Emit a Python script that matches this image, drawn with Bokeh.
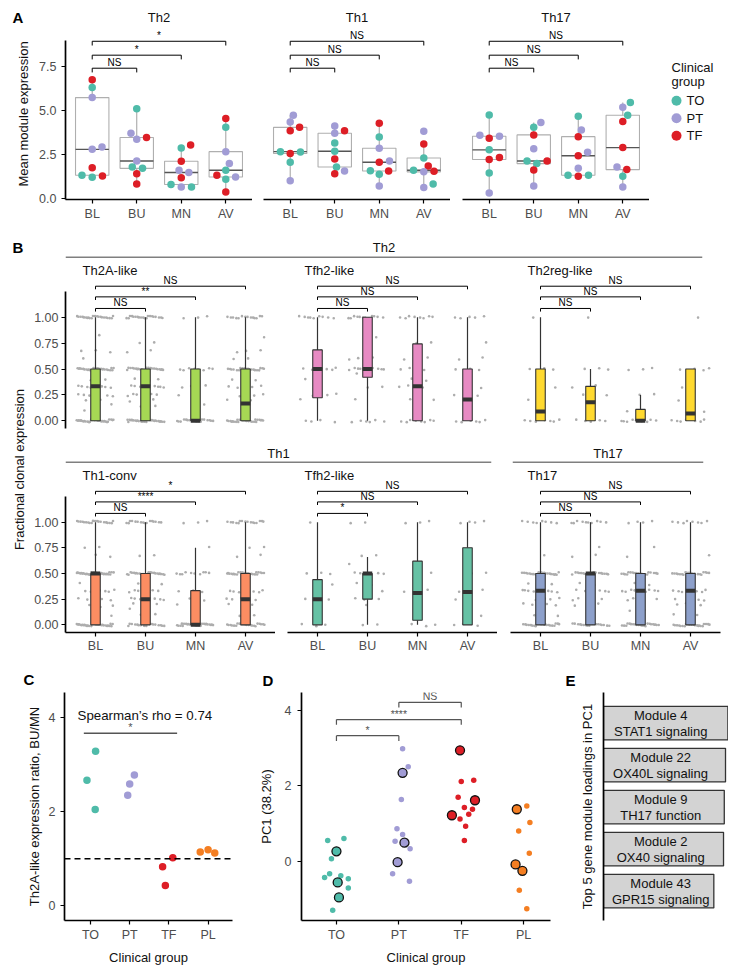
import numpy as np
from bokeh.plotting import figure
from bokeh.models import (Range1d, FixedTicker, Label, LabelSet, ColumnDataSource,
                          Span, NumeralTickFormatter)
from bokeh.layouts import row, column
from bokeh.embed import file_html
from bokeh.resources import INLINE
from bokeh.core.properties import value

FONT = "Liberation Sans"
TICK_COL = "#4D4D4D"
TXT_COL = "#111111"
GROUP_COLORS = {"TO": "#4FBBA9", "PT": "#A19CD5", "TF": "#DD1E26", "PL": "#F47E22"}

# ============================ DATA ============================
times = ["BL", "BU", "MN", "AV"]
legend_groups = ["TO", "PT", "TF"]
clinical_groups = ["TO", "PT", "TF", "PL"]
compare_pairs = [("BL", "BU"), ("BL", "MN"), ("BL", "AV")]

# ---- Panel A: mean module expression (9 patients per time point)
a_modules = ["Th2", "Th1", "Th17"]
a_time = ["BL"] * 9 + ["BU"] * 9 + ["MN"] * 9 + ["AV"] * 9
a_th2_group = ["TF", "TO", "PT", "PT", "PT", "TF", "TO", "TF", "TO",
               "TO", "PT", "TF", "PT", "PT", "TO", "TO", "TF", "TF",
               "TF", "TO", "TF", "PT", "PT", "TF", "TO", "PT", "TO",
               "TF", "TO", "PT", "PT", "TO", "TF", "PT", "TO", "TF"]
a_th2_value = [6.74, 6.29, 5.72, 2.92, 2.78, 1.74, 1.31, 1.27, 1.19,
               5.09, 3.69, 3.45, 3.35, 2.12, 1.78, 1.70, 1.40, 0.81,
               3.03, 2.86, 2.10, 1.59, 1.46, 1.17, 0.78, 0.64, 0.64,
               4.53, 4.03, 2.65, 1.97, 1.59, 1.31, 1.21, 1.08, 0.36]
a_th1_group = ["PT", "PT", "TF", "TF", "TO", "TO", "TF", "TO", "PT",
               "PT", "TF", "PT", "TO", "TO", "TF", "TO", "PT", "TF",
               "TF", "TO", "PT", "PT", "TF", "TO", "TF", "TO", "PT",
               "PT", "TF", "TO", "TF", "TO", "TF", "PT", "TO", "PT"]
a_th1_value = [4.72, 4.34, 4.03, 3.84, 2.65, 2.63, 2.54, 2.05, 1.00,
               4.11, 3.83, 3.69, 3.14, 2.67, 2.23, 1.78, 1.55, 1.40,
               4.26, 3.48, 2.84, 2.12, 2.05, 1.57, 1.55, 1.36, 0.70,
               3.81, 3.09, 2.29, 1.84, 1.59, 1.53, 1.50, 0.81, 0.61]
a_th17_group = ["TO", "PT", "PT", "TF", "TO", "TF", "TF", "TO", "PT",
                "PT", "TO", "TF", "PT", "TF", "TO", "TO", "TF", "PT",
                "TO", "PT", "TF", "PT", "TF", "PT", "TO", "TF", "TO",
                "TO", "PT", "TO", "TF", "TF", "PT", "TF", "TO", "PT"]
a_th17_value = [4.73, 3.58, 3.52, 3.41, 2.75, 2.31, 2.20, 1.44, 0.30,
                4.30, 4.03, 3.60, 2.82, 2.12, 2.12, 1.97, 1.61, 0.70,
                4.66, 3.88, 3.50, 2.61, 2.42, 1.70, 1.31, 1.25, 1.31,
                5.44, 5.17, 4.72, 4.36, 2.88, 1.78, 1.63, 1.25, 0.64]
a_th2_sig = ["NS", "*", "*"]
a_th1_sig = ["NS", "NS", "NS"]
a_th17_sig = ["NS", "NS", "NS"]

# horizontal dodge of the dots (layout only)
a_th2_dodge = [0, 0, 0, 0.22, 0, 0, -0.23, 0.23, 0,
               0, -0.13, 0.22, 0, 0, -0.1, 0.13, 0, 0,
               0.21, 0, 0, -0.05, 0.17, 0, -0.23, 0, 0.23,
               0, 0, 0, 0.08, 0, -0.2, 0.22, 0, 0]
a_th1_dodge = [0.07, 0, 0.21, 0, -0.22, 0.23, 0, 0, 0,
               0, 0.22, 0, 0, 0, 0, 0.04, 0.22, 0,
               0, 0, 0, 0.23, 0, -0.2, 0.21, 0, 0,
               0, 0, 0, 0.1, -0.23, 0.23, 0, 0.21, 0]
a_th17_dodge = [0, -0.21, 0.23, 0, 0, 0.23, 0, 0, 0,
                0.16, 0, 0, 0, 0.3, -0.15, 0.07, 0, 0,
                0, 0.07, 0, 0.21, 0, 0, -0.23, 0, 0.23,
                0.17, 0, 0.11, 0, 0, -0.13, 0.09, 0, 0]

# ---- Panel B: fractional clonal expression, box stats (lo, q1, median, q3, hi) per time point
b_th2a_box = [(0, 0, 0.333, 0.5, 1.0), (0, 0, 0.333, 0.5, 1.0), (0, 0, 0, 0.5, 1.0), (0, 0, 0.167, 0.5, 1.0)]
b_tfh2a_box = [(0, 0.222, 0.5, 0.685, 1.0), (0, 0.42, 0.5, 1.0, 1.0), (0, 0, 0.333, 0.743, 1.0), (0, 0, 0.206, 0.5, 1.0)]
b_th2reg_box = [(0, 0, 0.09, 0.5, 1.0), (0, 0, 0.18, 0.333, 0.5), (0, 0, 0, 0.11, 0.25), (0, 0, 0.07, 0.5, 0.5)]
b_th1conv_box = [(0, 0, 0.5, 0.5, 1.0), (0, 0, 0.25, 0.5, 1.0), (0, 0, 0, 0.333, 0.75), (0, 0, 0.25, 0.5, 1.0)]
b_tfh2b_box = [(0, 0, 0.25, 0.44, 1.0), (0, 0.25, 0.5, 0.5, 0.66), (0, 0.045, 0.31, 0.62, 1.0), (0, 0, 0.32, 0.75, 1.0)]
b_th17_box = [(0, 0, 0.333, 0.5, 1.0), (0, 0, 0.5, 0.5, 1.0), (0, 0, 0.333, 0.5, 1.0), (0, 0, 0.333, 0.5, 1.0)]

# individual clone values as (value, number of clones)
b_th2a_pts = {
    "BL": [(1, 22), (0.82, 1), (0.67, 3), (0.6, 1), (0.5, 26), (0.4, 2), (0.33, 8), (0.25, 7), (0.2, 2), (0.17, 2), (0.1, 1), (0, 32)],
    "BU": [(1, 20), (0.75, 2), (0.67, 2), (0.5, 24), (0.4, 3), (0.33, 9), (0.25, 6), (0.2, 3), (0.14, 2), (0, 28)],
    "MN": [(1, 3), (0.5, 8), (0.33, 3), (0.25, 2), (0.17, 1), (0, 18)],
    "AV": [(1, 14), (0.8, 1), (0.67, 3), (0.6, 2), (0.5, 20), (0.4, 2), (0.33, 6), (0.25, 4), (0.2, 2), (0, 26)]}
b_tfh2a_pts = {
    "BL": [(1, 9), (0.67, 1), (0.5, 7), (0.4, 1), (0.33, 1), (0.25, 3), (0.2, 1), (0, 4)],
    "BU": [(1, 12), (0.8, 1), (0.6, 3), (0.5, 10), (0.45, 2), (0.33, 2), (0.2, 1), (0, 6)],
    "MN": [(1, 8), (0.75, 2), (0.6, 2), (0.5, 4), (0.4, 2), (0.33, 3), (0.2, 2), (0, 8)],
    "AV": [(1, 5), (0.75, 1), (0.6, 2), (0.5, 3), (0.33, 2), (0.25, 2), (0.2, 1), (0, 6)]}
b_th2reg_pts = {
    "BL": [(1, 1), (0.5, 4), (0.33, 2), (0.2, 1), (0.1, 1), (0, 8)],
    "BU": [(1, 1), (0.5, 3), (0.33, 2), (0.25, 3), (0.2, 1), (0, 5)],
    "MN": [(0.5, 3), (0.25, 2), (0.1, 1), (0, 10)],
    "AV": [(1, 1), (0.5, 4), (0.33, 1), (0.2, 2), (0.1, 1), (0, 7)]}
b_th1conv_pts = {
    "BL": [(1, 20), (0.75, 2), (0.67, 2), (0.5, 32), (0.4, 2), (0.33, 7), (0.25, 4), (0.2, 2), (0.17, 1), (0.1, 2), (0, 30)],
    "BU": [(1, 16), (0.67, 2), (0.5, 26), (0.4, 3), (0.33, 7), (0.25, 8), (0.2, 3), (0.17, 2), (0.1, 2), (0, 18)],
    "MN": [(1, 3), (0.75, 1), (0.5, 10), (0.33, 3), (0.25, 2), (0.2, 1), (0, 26)],
    "AV": [(1, 16), (0.75, 2), (0.67, 2), (0.5, 26), (0.33, 8), (0.25, 4), (0.2, 3), (0.1, 2), (0, 22)]}
b_tfh2b_pts = {
    "BL": [(1, 1), (0.5, 3), (0.4, 1), (0.25, 3), (0, 3)],
    "BU": [(1, 2), (0.67, 2), (0.6, 1), (0.5, 6), (0.4, 2), (0.33, 2), (0.25, 3), (0.2, 1), (0, 2)],
    "MN": [(1, 3), (0.5, 2), (0.33, 2), (0.25, 1), (0, 3)],
    "AV": [(1, 4), (0.5, 2), (0.33, 2), (0.25, 2), (0.1, 1), (0, 3)]}
b_th17_pts = {
    "BL": [(1, 8), (0.67, 1), (0.5, 22), (0.4, 3), (0.33, 10), (0.25, 4), (0.2, 4), (0.1, 3), (0, 22)],
    "BU": [(1, 10), (0.75, 1), (0.67, 2), (0.5, 18), (0.4, 2), (0.33, 6), (0.25, 4), (0.2, 3), (0, 18)],
    "MN": [(1, 4), (0.75, 1), (0.67, 1), (0.5, 20), (0.4, 2), (0.33, 10), (0.25, 4), (0.15, 2), (0, 22)],
    "AV": [(1, 8), (0.67, 1), (0.5, 20), (0.33, 8), (0.25, 4), (0.2, 3), (0.1, 3), (0, 22)]}
b_th2a_sig = ["NS", "**", "NS"]
b_tfh2a_sig = ["NS", "NS", "NS"]
b_th2reg_sig = ["NS", "NS", "NS"]
b_th1conv_sig = ["NS", "****", "*"]
b_tfh2b_sig = ["*", "NS", "NS"]
b_th17_sig = ["NS", "NS", "NS"]

# ---- Panel C: Th2A-like expression ratio BU/MN
c_group = ["TO", "TO", "TO", "PT", "PT", "PT", "TF", "TF", "TF", "PL", "PL", "PL"]
c_value = [3.29, 2.67, 2.05, 2.78, 2.59, 2.35, 1.02, 0.83, 0.43, 1.14, 1.19, 1.12]
c_dodge = [0.13, -0.09, 0.12, 0.12, 0.0, -0.05, 0.1, -0.16, -0.09, -0.2, 0.0, 0.17]
c_reference = 1.0
c_rho = 0.74

# ---- Panel D: PC1 (38.2%)
d_group = ["TO"] * 12 + ["PT"] * 12 + ["TF"] * 12 + ["PL"] * 9
d_value = [0.55, 0.60, 0.06, -0.44, -0.34, -0.39, -0.47, -0.72, -1.31, 0.26, -0.57, -0.97,
           2.99, 2.51, 1.64, 0.86, 0.71, 0.53, 0.33, -0.34, -0.54, 2.35, 0.49, -0.03,
           2.12, 2.15, 1.70, 1.43, 1.38, 1.25, 1.12, 0.93, 0.55, 2.95, 1.22, 1.62,
           1.47, 1.03, 0.80, 0.21, -0.78, -1.27, 1.38, -0.09, -0.26]
d_marked = ([False] * 9 + [True] * 3) * 3 + [False] * 6 + [True] * 3
d_dodge = [-0.14, 0.12, -0.08, -0.19, -0.11, 0.07, 0.19, 0.19, -0.06, 0.0, 0.02, 0.04,
           0.06, 0.15, 0.04, -0.03, 0.06, -0.06, 0.18, -0.1, 0.17, 0.06, 0.09, -0.02,
           0.0, 0.2, -0.05, 0.05, 0.18, 0.12, -0.02, 0.07, 0.05, -0.02, -0.15, 0.22,
           0.05, 0.1, -0.08, 0.09, -0.07, 0.05, -0.11, -0.13, -0.02]
d_pairs = [("TO", "PT"), ("TO", "TF"), ("PT", "TF")]
d_sig = ["*", "****", "NS"]

# ---- Panel E: top 5 gene module loadings in PC1 (relative)
e_module = ["Module 4", "Module 22", "Module 9", "Module 2", "Module 43"]
e_function = ["STAT1 signaling", "OX40L signaling", "TH17 function", "OX40 signaling", "GPR15 signaling"]
e_loading = [1.0, 0.981, 0.971, 0.965, 0.887]


# ============================ HELPERS ============================
def style_axis(ax):
    ax.axis_line_color = "black"
    ax.axis_line_width = 1.7
    ax.major_tick_line_color = "black"
    ax.major_tick_line_width = 1.2
    ax.major_tick_in = 0
    ax.major_tick_out = 4
    ax.minor_tick_line_color = None
    ax.major_label_text_font = FONT
    ax.major_label_text_font_size = "12.5px"
    ax.major_label_text_color = TICK_COL
    ax.axis_label_text_font = FONT
    ax.axis_label_text_font_size = "13px"
    ax.axis_label_text_font_style = "normal"
    ax.axis_label_text_color = TXT_COL


def make_fig(width, height, xr, yr, left=0, right=0, top=0, bottom=0, xaxis=None, yaxis=None):
    p = figure(width=width, height=height, x_range=xr, y_range=yr, title=None,
               output_backend="svg", toolbar_location=None,
               x_axis_location=xaxis, y_axis_location=yaxis,
               min_border_left=left, min_border_right=right,
               min_border_top=top, min_border_bottom=bottom)
    p.grid.visible = False
    p.outline_line_color = None
    for ax in p.axis:
        style_axis(ax)
    return p


def add_text(p, text, x, y, x_units="data", y_units="data", size="13px", align="left",
             baseline="middle", angle=0.0, bold=False, color=TXT_COL):
    p.add_layout(Label(x=x, y=y, x_units=x_units, y_units=y_units, text=text, angle=angle,
                       text_font=FONT, text_font_size=size,
                       text_font_style="bold" if bold else "normal",
                       text_align=align, text_baseline=baseline, text_color=color))


def strip_text(p, xs, ys, texts, size="13px", align="center", bold=False, color=TXT_COL):
    p.text(x=xs, y=ys, text=texts, text_font=value(FONT), text_font_size=size,
           text_font_style="bold" if bold else "normal", text_align=align,
           text_baseline="middle", text_color=color)


def brackets(p, x0s, x1s, ys, labels, tick, size, color="black", lw=1.0):
    downs = [y - tick for y in ys]
    p.segment(x0=x0s, y0=ys, x1=x1s, y1=ys, line_color=color, line_width=lw)
    p.segment(x0=x0s, y0=ys, x1=x0s, y1=downs, line_color=color, line_width=lw)
    p.segment(x0=x1s, y0=ys, x1=x1s, y1=downs, line_color=color, line_width=lw)
    src = ColumnDataSource(dict(x=[(a + b) / 2 for a, b in zip(x0s, x1s)], y=list(ys), t=labels))
    p.add_layout(LabelSet(x="x", y="y", text="t", source=src, text_align="center",
                          text_baseline="alphabetic", y_offset=2, text_font=value(FONT),
                          text_font_size=value(size), text_color=color))


def cat_axis(ax, labels, standoff):
    ax.ticker = FixedTicker(ticks=list(range(1, len(labels) + 1)))
    ax.major_label_overrides = {i + 1: lab for i, lab in enumerate(labels)}
    ax.major_label_standoff = standoff


# ============================ PANEL A ============================
A_STRIP_H = 20
A_H, A_BOT = 200, 29
A_FRAME_H = A_H - A_BOT
A_PX_PER_UNIT = 17.6
A_Y0 = -0.07
A_AXIS_TOP = 8.97
A_BRACKET_Y = [7.39, 8.13, 8.92]
A_BOX_W = 0.75
A_WIDTHS = [244, 198, 199]
A_LEFTS = [57, 11, 12]
A_FRAME_W = 187
LEG_W = 720 - sum(A_WIDTHS)


def a_panel(grp, val, dodge, sig, width, left, first):
    p = make_fig(width, A_H, Range1d(0.4, 4.6), Range1d(A_Y0, A_Y0 + A_FRAME_H / A_PX_PER_UNIT),
                 left=left, right=0, top=0, bottom=A_BOT, xaxis="below", yaxis="left" if first else None)
    cat_axis(p.xaxis[0], times, 3)
    if first:
        ya = p.yaxis[0]
        ya.ticker = FixedTicker(ticks=[0, 2.5, 5.0, 7.5])
        ya.formatter = NumeralTickFormatter(format="0.0")
        ya.bounds = (A_Y0, A_AXIS_TOP)
        ya.major_label_standoff = 5
        ya.axis_label = "Mean module expression"
        ya.axis_label_standoff = 5
    val = np.asarray(val, float)
    tpos = np.array([times.index(t) + 1 for t in a_time], float)
    st = {k: [] for k in ("x", "xl", "xr", "q1", "med", "q3", "lo", "hi")}
    for i in range(len(times)):
        v = val[tpos == i + 1]
        q1, med, q3 = np.percentile(v, [25, 50, 75])
        iqr = q3 - q1
        st["x"].append(i + 1)
        st["xl"].append(i + 1 - A_BOX_W / 2)
        st["xr"].append(i + 1 + A_BOX_W / 2)
        st["q1"].append(q1)
        st["med"].append(med)
        st["q3"].append(q3)
        st["lo"].append(v[v >= q1 - 1.5 * iqr].min())
        st["hi"].append(v[v <= q3 + 1.5 * iqr].max())
    src = ColumnDataSource(st)
    p.segment(x0="x", y0="q3", x1="x", y1="hi", source=src, line_color="#A8A8A8", line_width=1.1)
    p.segment(x0="x", y0="q1", x1="x", y1="lo", source=src, line_color="#A8A8A8", line_width=1.1)
    p.quad(left="xl", right="xr", bottom="q1", top="q3", source=src, fill_color=None,
           line_color="#AFAFAF", line_width=1.1)
    p.segment(x0="xl", y0="med", x1="xr", y1="med", source=src, line_color="#555555", line_width=1.4)
    px = tpos + np.asarray(dodge, float)
    p.scatter(x=list(px), y=list(val), size=7.5, fill_color=[GROUP_COLORS[g] for g in grp],
              line_color=None)
    x0s = [times.index(a) + 1 for a, b in compare_pairs]
    x1s = [times.index(b) + 1 for a, b in compare_pairs]
    brackets(p, x0s, x1s, A_BRACKET_Y, sig, 0.24, "10px", "black", 1.0)
    return p


a1 = a_panel(a_th2_group, a_th2_value, a_th2_dodge, a_th2_sig, A_WIDTHS[0], A_LEFTS[0], True)
a2 = a_panel(a_th1_group, a_th1_value, a_th1_dodge, a_th1_sig, A_WIDTHS[1], A_LEFTS[1], False)
a3 = a_panel(a_th17_group, a_th17_value, a_th17_dodge, a_th17_sig, A_WIDTHS[2], A_LEFTS[2], False)

# strip with panel letter and facet titles (pixel space)
strip_a = make_fig(720, A_STRIP_H, Range1d(0, 720), Range1d(A_STRIP_H, 0))
a_centers = [sum(A_WIDTHS[:i]) + A_LEFTS[i] + A_FRAME_W / 2 for i in range(3)]
strip_text(strip_a, a_centers, [9] * 3, a_modules, size="13px")
strip_text(strip_a, [4], [9], ["A"], size="15px", align="left", bold=True, color="black")

# legend (pixel space figure)
leg = make_fig(LEG_W, A_H, Range1d(0, LEG_W), Range1d(A_STRIP_H + A_H, A_STRIP_H))
LEG_TITLE_X, LEG_TITLE_Y, LEG_TITLE_DY = 22, 66, 15.5
LEG_KEY_X, LEG_TEXT_X, LEG_Y0, LEG_DY = 27, 37, 104.5, 20.5
leg.text(x=[LEG_TITLE_X] * 2, y=[LEG_TITLE_Y, LEG_TITLE_Y + LEG_TITLE_DY], text=["Clinical", "group"],
         text_font=value(FONT), text_font_size="13px", text_baseline="middle", text_align="left",
         text_color=TXT_COL)
leg_y = [LEG_Y0 + i * LEG_DY for i in range(len(legend_groups))]
leg.scatter(x=[LEG_KEY_X] * len(legend_groups), y=leg_y, size=10,
            fill_color=[GROUP_COLORS[g] for g in legend_groups], line_color=None)
leg.text(x=[LEG_TEXT_X] * len(legend_groups), y=leg_y, text=legend_groups, text_font=value(FONT),
         text_font_size="13px", text_baseline="middle", text_align="left", text_color=TXT_COL)

# ============================ PANEL B ============================
B_COLS = [(247, 37, 0), (222, 12, 0), (231, 13, 8)]
B_BRACKET_Y = [1.085, 1.197, 1.30]
B_BOX_W = 0.19


def b_panel(name, color, box, pts, sig, col, bottom_row):
    width, left, right = B_COLS[col]
    if bottom_row:
        height, bot, y0, y1, ytop = 192, 22, -0.0745, 1.571, 1.245
    else:
        height, bot, y0, y1, ytop = 178, 8, -0.0743, 1.5676, 1.248
    p = make_fig(width, height, Range1d(0.4, 4.6), Range1d(y0, y1), left=left, right=right, top=0,
                 bottom=bot, xaxis="below" if bottom_row else None, yaxis="left" if col == 0 else None)
    if col == 0:
        ya = p.yaxis[0]
        ya.ticker = FixedTicker(ticks=[0, 0.25, 0.5, 0.75, 1.0])
        ya.formatter = NumeralTickFormatter(format="0.00")
        ya.bounds = (y0, ytop)
        ya.major_label_standoff = 3
    if bottom_row:
        cat_axis(p.xaxis[0], times, 2)
    gx, gy = [], []
    for i, t in enumerate(times):
        for li, (v, n) in enumerate(pts[t]):
            for k in range(n):
                fx = ((k + 0.5) * 0.6180339887 + li * 0.29 + i * 0.13) % 1.0
                fy = ((k + 0.5) * 0.7548776662 + li * 0.41) % 1.0
                gx.append(i + 1 + (fx - 0.5) * 0.76)
                gy.append(v + (fy - 0.5) * 0.026)
    p.scatter(x=gx, y=gy, size=2.6, fill_color="#ADADAD", line_color=None)
    lo, q1, med, q3, hi = [list(c) for c in zip(*box)]
    xs = list(range(1, len(times) + 1))
    p.segment(x0=xs, y0=q3, x1=xs, y1=hi, line_color="#333333", line_width=1.2)
    p.segment(x0=xs, y0=q1, x1=xs, y1=lo, line_color="#333333", line_width=1.2)
    p.vbar(x=xs, width=B_BOX_W, bottom=q1, top=q3, fill_color=color, line_color="#333333", line_width=1.1)
    p.rect(x=xs, y=med, width=B_BOX_W, height=4, height_units="screen", fill_color="#333333",
           line_color=None)
    x0s = [times.index(a) + 1 for a, b in compare_pairs]
    x1s = [times.index(b) + 1 for a, b in compare_pairs]
    brackets(p, x0s, x1s, B_BRACKET_Y, sig, 0.03, "10px", "black", 1.0)
    add_text(p, name, 17, 1.45, x_units="screen", size="13px")
    return p


SET2 = {"green": "#A6D854", "pink": "#E78AC3", "yellow": "#FFD92F",
        "orange": "#FC8D62", "teal": "#66C2A5", "blue": "#8DA0CB"}
bt = [b_panel("Th2A-like", SET2["green"], b_th2a_box, b_th2a_pts, b_th2a_sig, 0, False),
      b_panel("Tfh2-like", SET2["pink"], b_tfh2a_box, b_tfh2a_pts, b_tfh2a_sig, 1, False),
      b_panel("Th2reg-like", SET2["yellow"], b_th2reg_box, b_th2reg_pts, b_th2reg_sig, 2, False)]
bb = [b_panel("Th1-conv", SET2["orange"], b_th1conv_box, b_th1conv_pts, b_th1conv_sig, 0, True),
      b_panel("Tfh2-like", SET2["teal"], b_tfh2b_box, b_tfh2b_pts, b_tfh2b_sig, 1, True),
      b_panel("Th17", SET2["blue"], b_th17_box, b_th17_pts, b_th17_sig, 2, True)]


def header(width, height, left, right, text, text_y):
    h = make_fig(width, height, Range1d(0, 1), Range1d(0, 1), left=left, right=right, top=0, bottom=1)
    h.add_layout(Span(location=0, dimension="width", line_color="black", line_width=1.6))
    add_text(h, text, 0.5, text_y, y_units="screen", size="13px", align="center")
    return h


letter_b = make_fig(57, 30, Range1d(0, 1), Range1d(0, 1))
add_text(letter_b, "B", 4, 10, x_units="screen", y_units="screen", size="15px", bold=True, color="black")
hdr_top = header(663, 30, 0, 26, "Th2", 10.5)
hdr_th1 = header(473, 27, 37, 10, "Th1", 9)
hdr_th17 = header(227, 27, 11, 25, "Th17", 9)

lab = make_fig(20, 397, Range1d(0, 1), Range1d(0, 1))
add_text(lab, "Fractional clonal expression", 11, 186, x_units="screen", y_units="screen",
         size="13px", align="center", angle=np.pi / 2)

# ============================ PANELS C, D, E ============================
CDE_STRIP_H = 34
CDE_H = 278
strip_cde = make_fig(720, CDE_STRIP_H, Range1d(0, 720), Range1d(CDE_STRIP_H, 0))
strip_text(strip_cde, [15, 254, 557], [24, 24.5, 24.5], ["C", "D", "E"], size="15px", align="left",
           bold=True, color="black")

cfig = make_fig(232, CDE_H, Range1d(0.337, 4.623), Range1d(-0.316, 4.539), left=56, right=8, top=0,
                bottom=43, xaxis="below", yaxis="left")
cat_axis(cfig.xaxis[0], clinical_groups, 3)
cfig.xaxis[0].axis_label = "Clinical group"
cfig.xaxis[0].axis_label_standoff = 5
cfig.yaxis[0].ticker = FixedTicker(ticks=[0, 2, 4])
cfig.yaxis[0].major_label_standoff = 5
cfig.yaxis[0].axis_label = "Th2A-like expression ratio, BU/MN"
cfig.yaxis[0].axis_label_standoff = 4
cfig.add_layout(Span(location=c_reference, dimension="width", line_color="black", line_width=1.6,
                     line_dash="6 4"))
cx = [clinical_groups.index(g) + 1 + d for g, d in zip(c_group, c_dodge)]
cfig.scatter(x=cx, y=c_value, size=7.5, fill_color=[GROUP_COLORS[g] for g in c_group], line_color=None)
add_text(cfig, "Spearman\u2019s rho = %.2f" % c_rho, 0.669, 4.04, size="13.3px")
c_br_x0 = clinical_groups.index("TO") + 1 - 0.17
c_br_x1 = clinical_groups.index("TF") + 1 + 0.21
brackets(cfig, [c_br_x0], [c_br_x1], [3.67], ["*"], 0.0, "11px", "#555555", 1.5)

dfig = make_fig(320, CDE_H, Range1d(0.44, 4.43), Range1d(-1.585, 4.492), left=61, right=10, top=0,
                bottom=43, xaxis="below", yaxis="left")
cat_axis(dfig.xaxis[0], clinical_groups, 3)
dfig.xaxis[0].axis_label = "Clinical group"
dfig.xaxis[0].axis_label_standoff = 5
dfig.yaxis[0].ticker = FixedTicker(ticks=[0, 2, 4])
dfig.yaxis[0].major_label_standoff = 6
dfig.yaxis[0].axis_label = "PC1 (38.2%)"
dfig.yaxis[0].axis_label_standoff = 8
dx = [clinical_groups.index(g) + 1 + d for g, d in zip(d_group, d_dodge)]
small = [i for i, m in enumerate(d_marked) if not m]
big = [i for i, m in enumerate(d_marked) if m]
dfig.scatter(x=[dx[i] for i in small], y=[d_value[i] for i in small], size=5.5,
             fill_color=[GROUP_COLORS[d_group[i]] for i in small], line_color=None)
dfig.scatter(x=[dx[i] for i in big], y=[d_value[i] for i in big], size=9,
             fill_color=[GROUP_COLORS[d_group[i]] for i in big], line_color="#111111", line_width=1.3)
brackets(dfig, [clinical_groups.index(a) + 1 for a, b in d_pairs],
         [clinical_groups.index(b) + 1 for a, b in d_pairs], [3.34, 3.77, 4.23], d_sig, 0.14, "10.5px",
         "#555555", 1.2)

efig = make_fig(168, CDE_H, Range1d(0, 1.005), Range1d(5.70, 0.27), left=43, right=0, top=3, bottom=42,
                xaxis=None, yaxis="left")
efig.yaxis[0].ticker = FixedTicker(ticks=[])
efig.yaxis[0].major_tick_line_color = None
efig.yaxis[0].axis_label = "Top 5 gene module loadings in PC1"
efig.yaxis[0].axis_label_standoff = 9
ey = list(range(1, len(e_module) + 1))
efig.hbar(y=ey, left=0, right=e_loading, height=0.8, fill_color="#D3D3D3", line_color="#333333",
          line_width=1.3)
E_TEXT_X = 0.46
efig.text(x=[E_TEXT_X] * len(ey), y=ey, text=e_module, y_offset=-8, text_font=value(FONT),
          text_font_size="13px", text_align="center", text_baseline="middle", text_color=TXT_COL)
efig.text(x=[E_TEXT_X] * len(ey), y=ey, text=e_function, y_offset=8, text_font=value(FONT),
          text_font_size="13px", text_align="center", text_baseline="middle", text_color=TXT_COL)

# ============================ LAYOUT ============================
layout = column(
    strip_a,
    row(a1, a2, a3, leg),
    row(letter_b, hdr_top),
    row(lab, column(row(*bt), row(hdr_th1, hdr_th17), row(*bb))),
    strip_cde,
    row(cfig, dfig, efig),
    margin=(8, 8, 8, 8),
)

open("out.html", "w").write(file_html(layout, INLINE))
